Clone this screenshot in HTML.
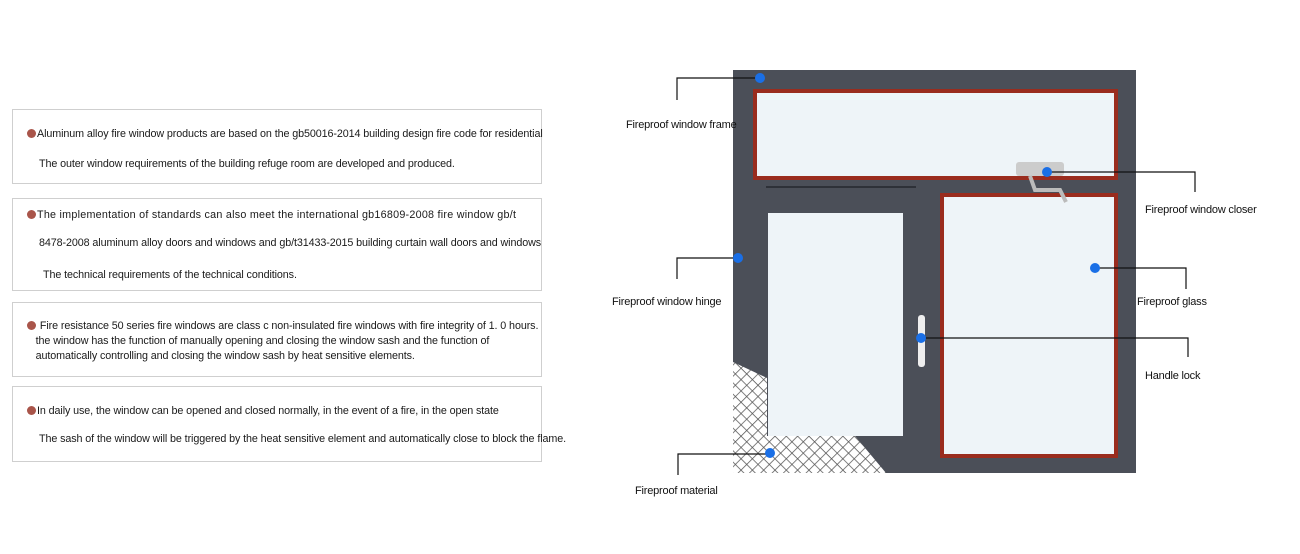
<!DOCTYPE html>
<html><head><meta charset="utf-8"><style>
body{margin:0;width:1300px;height:554px;background:#fff;position:relative;overflow:hidden;font-family:"Liberation Sans",sans-serif;color:#1a1a1a}
.box{position:absolute;left:12px;width:528px;border:1px solid #cfcfcf;font-size:10.75px;letter-spacing:-0.1px}
.box div{position:absolute;white-space:nowrap}
.dot{display:inline-block;width:9px;height:9px;border-radius:50%;background:#a9554a;margin-right:1px;vertical-align:-1px}
.lbl{position:absolute;font-size:11px;white-space:nowrap;letter-spacing:-0.2px;color:#111}
</style></head><body>
<div class="box" style="top:109px;height:73px">
<div style="left:14px;top:18px"><span class="dot"></span>Aluminum alloy fire window products are based on the gb50016-2014 building design fire code for residential</div>
<div style="left:26px;top:48px">The outer window requirements of the building refuge room are developed and produced.</div></div>
<div class="box" style="top:198px;height:91px">
<div style="left:14px;top:10px;letter-spacing:0.25px"><span class="dot"></span>The implementation of standards can also meet the international gb16809-2008 fire window gb/t</div>
<div style="left:26px;top:38px">8478-2008 aluminum alloy doors and windows and gb/t31433-2015 building curtain wall doors and windows</div>
<div style="left:30px;top:70px">The technical requirements of the technical conditions.</div></div>
<div class="box" style="top:302px;height:73px">
<div style="left:14px;top:16px;line-height:15px"><span class="dot"></span> Fire resistance 50 series fire windows are class c non-insulated fire windows with fire integrity of 1. 0 hours.<br>&nbsp;&nbsp;&nbsp;the window has the function of manually opening and closing the window sash and the function of<br>&nbsp;&nbsp;&nbsp;automatically controlling and closing the window sash by heat sensitive elements.</div></div>
<div class="box" style="top:386px;height:74px">
<div style="left:14px;top:18px"><span class="dot"></span>In daily use, the window can be opened and closed normally, in the event of a fire, in the open state</div>
<div style="left:26px;top:46px">The sash of the window will be triggered by the heat sensitive element and automatically close to block the flame.</div></div>

<svg style="position:absolute;left:0;top:0" width="1300" height="554">
<defs><pattern id="h" width="8" height="8" patternUnits="userSpaceOnUse" patternTransform="rotate(45)"><rect width="8" height="8" fill="#fff"/><path d="M0 0H8M0 0V8" stroke="#555" stroke-width="1.5"/></pattern></defs>
<rect x="733" y="70" width="403" height="403" fill="#4b4f58"/>
<rect x="753" y="89" width="365" height="91" fill="#9a2c1e"/>
<rect x="757" y="93" width="357" height="83" fill="#eef4f8"/>
<rect x="940" y="193" width="178" height="265" fill="#9a2c1e"/>
<rect x="944" y="197" width="170" height="257" fill="#eef4f8"/>
<rect x="768" y="213" width="135" height="223" fill="#eef4f8"/>
<rect x="766" y="186" width="150" height="2" fill="#2e3138"/>
<polygon points="733,362 767,378 767,436 855,436 886,473 733,473" fill="url(#h)"/>
<rect x="1016" y="162" width="48" height="14" rx="3" fill="#ccc"/>
<path d="M1030 176 l5 14 h25 l6 12" stroke="#bbb" stroke-width="4" fill="none"/>
<rect x="918" y="315" width="7" height="52" rx="3" fill="#eee"/>
<g stroke="#111" stroke-width="1.2" fill="none">
<path d="M760 78H677V100"/><path d="M1047 172H1195V192"/><path d="M738 258H677V279"/>
<path d="M1095 268H1186V289"/><path d="M921 338H1188V357"/><path d="M770 454H678V475"/>
</g>
<g fill="#1a6fe6"><circle cx="760" cy="78" r="5"/><circle cx="1047" cy="172" r="5"/><circle cx="738" cy="258" r="5"/><circle cx="1095" cy="268" r="5"/><circle cx="921" cy="338" r="5"/><circle cx="770" cy="453" r="5"/></g>
</svg>
<div class="lbl" style="left:626px;top:119px">Fireproof window frame</div>
<div class="lbl" style="left:1145px;top:204px">Fireproof window closer</div>
<div class="lbl" style="left:612px;top:296px">Fireproof window hinge</div>
<div class="lbl" style="left:1137px;top:296px">Fireproof glass</div>
<div class="lbl" style="left:1145px;top:370px">Handle lock</div>
<div class="lbl" style="left:635px;top:485px">Fireproof material</div>
</body></html>
